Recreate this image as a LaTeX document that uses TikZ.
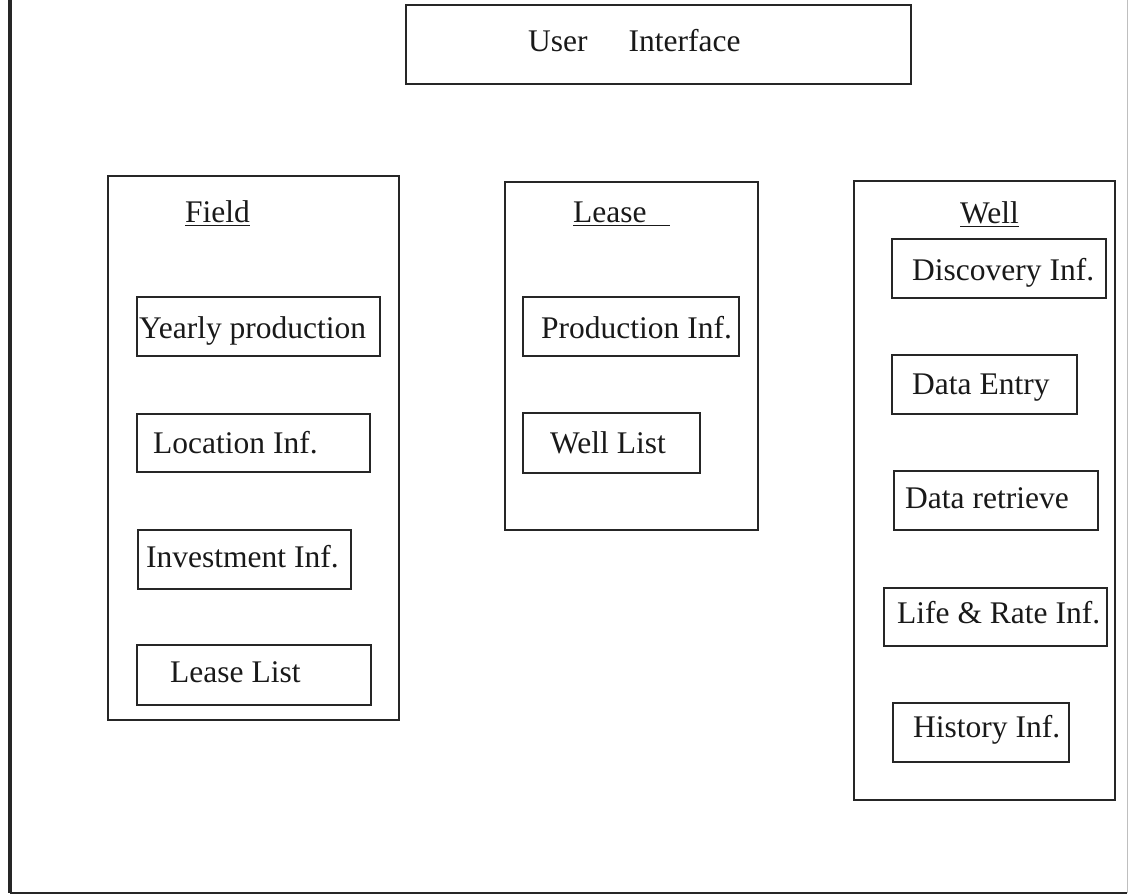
\documentclass[tikz,border=0pt]{standalone}
\usepackage{fontspec}
\setmainfont{Liberation Serif}
\begin{document}
\begin{tikzpicture}[x=1pt,y=-1pt,
  box/.style={draw=black!85, line width=2pt, anchor=north west, inner sep=0pt},
  lbl/.style={anchor=base west, inner sep=0pt, text=black!90,
    font=\fontsize{31.5}{36}\selectfont}]
\useasboundingbox (0,0) rectangle (1130,896);

% page frame
\coordinate (ftl) at (10,0);
\coordinate (fbl) at (10,893);
\coordinate (fbr) at (1127,893);
\coordinate (ftr) at (1127,0);
\draw[line width=4pt, black!85] (ftl) -- (fbl);
\draw[line width=2pt, black!85] (fbl) -- (fbr);
\draw[line width=1pt, black!25] (fbr) -- (ftr);

% top box
\node[box, minimum width=505pt, minimum height=79pt] (ui) at (405,4) {};
\node[lbl] (uit) at (528,52) {User\hspace{41pt}Interface};

% Field group
\node[box, minimum width=291pt, minimum height=544pt] (field) at (107,175) {};
\node[lbl] (fieldt) at (185,223) {\underline{Field}};
\node[box, minimum width=243pt, minimum height=59pt] (f1) at (136,296) {};
\node[lbl] at (139,338) {Yearly production};
\node[box, minimum width=233pt, minimum height=58pt] (f2) at (136,413) {};
\node[lbl] at (153,453) {Location Inf.};
\node[box, minimum width=213pt, minimum height=59pt] (f3) at (137,529) {};
\node[lbl] at (146,567) {Investment Inf.};
\node[box, minimum width=234pt, minimum height=60pt] (f4) at (136,644) {};
\node[lbl] at (170,682) {Lease List};

% Lease group
\node[box, minimum width=253pt, minimum height=348pt] (lease) at (504,181) {};
\node[lbl] (leaset) at (573,223) {\underline{Lease\hspace*{23pt}}};
\node[box, minimum width=216pt, minimum height=59pt] (l1) at (522,296) {};
\node[lbl] at (541,338) {Production Inf.};
\node[box, minimum width=177pt, minimum height=60pt] (l2) at (522,412) {};
\node[lbl] at (550,453) {Well List};

% Well group
\node[box, minimum width=261pt, minimum height=619pt] (well) at (853,180) {};
\node[lbl] (wellt) at (960,224) {\underline{Well}};
\node[box, minimum width=214pt, minimum height=59pt] (w1) at (891,238) {};
\node[lbl] at (912,280) {Discovery Inf.};
\node[box, minimum width=185pt, minimum height=59pt] (w2) at (891,354) {};
\node[lbl] at (912,394) {Data Entry};
\node[box, minimum width=204pt, minimum height=59pt] (w3) at (893,470) {};
\node[lbl] at (905,508) {Data retrieve};
\node[box, minimum width=223pt, minimum height=58pt] (w4) at (883,587) {};
\node[lbl] at (897,623) {Life \& Rate Inf.};
\node[box, minimum width=176pt, minimum height=59pt] (w5) at (892,702) {};
\node[lbl] at (913,737) {History Inf.};
\end{tikzpicture}
\end{document}
